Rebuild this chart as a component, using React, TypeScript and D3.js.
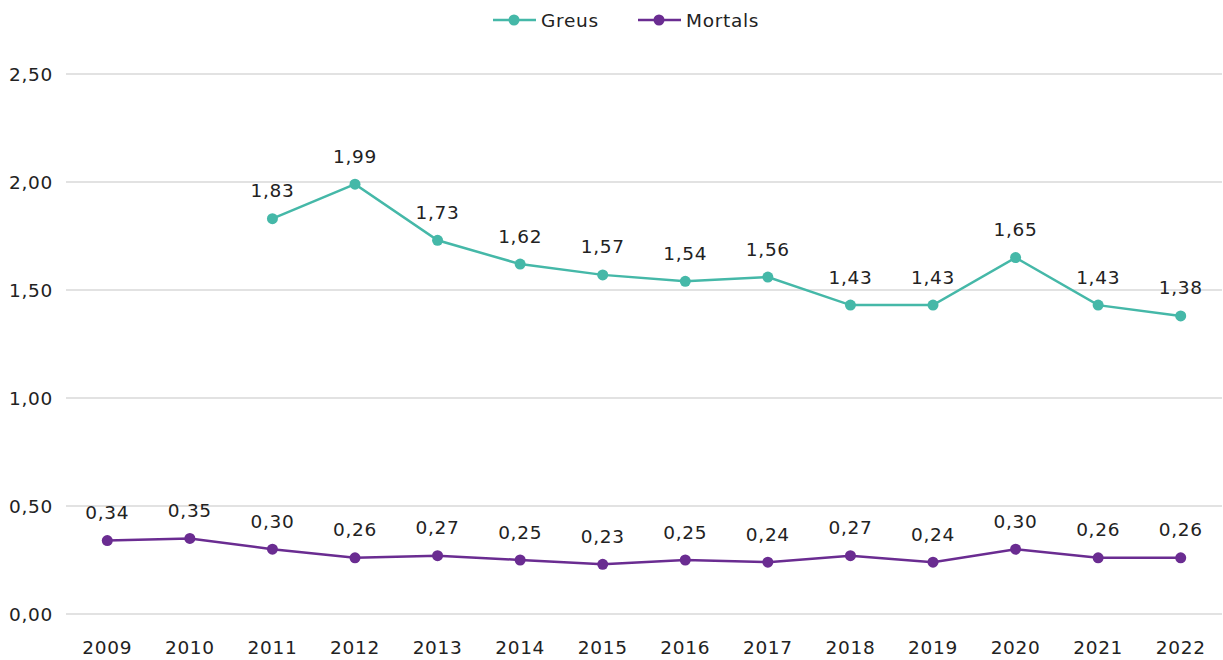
import React from "react";
import * as d3 from "d3";

const years = ["2009","2010","2011","2012","2013","2014","2015","2016","2017","2018","2019","2020","2021","2022"];
const greus: (number | null)[] = [null, null, 1.83, 1.99, 1.73, 1.62, 1.57, 1.54, 1.56, 1.43, 1.43, 1.65, 1.43, 1.38];
const mortals: (number | null)[] = [0.34, 0.35, 0.30, 0.26, 0.27, 0.25, 0.23, 0.25, 0.24, 0.27, 0.24, 0.30, 0.26, 0.26];
const yTicks = [0, 0.5, 1, 1.5, 2, 2.5];

const W = 1223, H = 660;
const FONT = "'DejaVu Sans', sans-serif";
const TEXT = "#222";
const C_GREUS = "#45B8A8";
const C_MORT = "#6A2C91";
const FS = 18.5;
const LS = 0.7;

const fmt = (v: number) => v.toFixed(2).replace(".", ",");

export default function App() {
  const x = d3.scaleBand().domain(years).range([66, 1222]);
  const y = d3.scaleLinear().domain([0, 2.5]).range([614, 74]);
  const cx = (yr: string) => (x(yr) ?? 0) + x.bandwidth() / 2;

  const series = [
    { name: "Greus", values: greus, color: C_GREUS },
    { name: "Mortals", values: mortals, color: C_MORT },
  ];

  const line = d3
    .line<{ yr: string; v: number | null }>()
    .defined((d) => d.v !== null)
    .x((d) => cx(d.yr))
    .y((d) => y(d.v as number));

  const legend = [
    { name: "Greus", color: C_GREUS, x0: 493 },
    { name: "Mortals", color: C_MORT, x0: 638 },
  ];

  return (
    <svg width={W} height={H} style={{ position: "absolute", left: 0, top: 0, background: "#fff" }} fontFamily={FONT} letterSpacing={LS}>
      {yTicks.map((t) => (
        <g key={t}>
          <line x1={66} x2={1222} y1={y(t)} y2={y(t)} stroke="#d9d9d9" strokeWidth={1.3} />
          <text x={53} y={y(t)} textAnchor="end" dominantBaseline="central" fontSize={FS} fill={TEXT}>
            {fmt(t)}
          </text>
        </g>
      ))}
      {years.map((yr) => (
        <text key={yr} x={cx(yr)} y={647} textAnchor="middle" dominantBaseline="central" fontSize={FS} fill={TEXT}>
          {yr}
        </text>
      ))}
      {series.map((s) => {
        const pts = years.map((yr, i) => ({ yr, v: s.values[i] }));
        return (
          <g key={s.name}>
            <path d={line(pts) ?? ""} fill="none" stroke={s.color} strokeWidth={2.5} />
            {pts.filter((p) => p.v !== null).map((p) => (
              <g key={p.yr}>
                <circle cx={cx(p.yr)} cy={y(p.v as number)} r={5.5} fill={s.color} />
                <text x={cx(p.yr)} y={y(p.v as number) - 28} textAnchor="middle" dominantBaseline="central" fontSize={FS} fill={TEXT}>
                  {fmt(p.v as number)}
                </text>
              </g>
            ))}
          </g>
        );
      })}
      {legend.map((l) => (
        <g key={l.name}>
          <line x1={l.x0} x2={l.x0 + 43} y1={20} y2={20} stroke={l.color} strokeWidth={2.5} />
          <circle cx={l.x0 + 21} cy={20} r={5.5} fill={l.color} />
          <text x={l.x0 + 48} y={20} dominantBaseline="central" fontSize={FS} fill={TEXT}>
            {l.name}
          </text>
        </g>
      ))}
    </svg>
  );
}
